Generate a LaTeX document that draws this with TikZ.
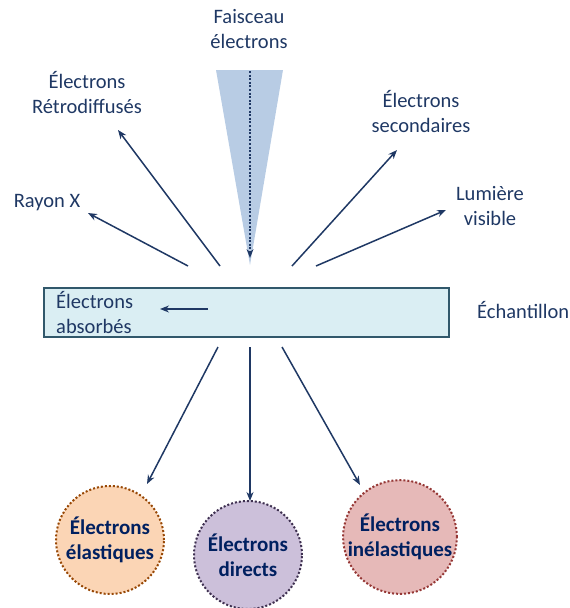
\documentclass[tikz,border=0pt]{standalone}
\usepackage{fontspec}
\setmainfont{Carlito}
\usetikzlibrary{arrows.meta}
\definecolor{navy}{HTML}{1F3864}
\definecolor{dnavy}{HTML}{002060}
\definecolor{beam}{HTML}{B8CCE4}
\definecolor{boxfill}{HTML}{DAEEF3}
\definecolor{boxline}{HTML}{31586B}
\definecolor{c1fill}{HTML}{FBD5B5}
\definecolor{c1line}{HTML}{984806}
\definecolor{c2fill}{HTML}{CCC0DA}
\definecolor{c2line}{HTML}{3F3151}
\definecolor{c3fill}{HTML}{E6B9B8}
\definecolor{c3line}{HTML}{953735}
\tikzset{
  lbl/.style={text=navy, font=\fontsize{20.5}{25}\selectfont, align=center, inner sep=0pt, anchor=base},
  arr/.style={draw=navy, line width=1.5pt, -{Stealth[length=9pt,width=7pt]}},
  circ/.style={circle, minimum size=108pt, inner sep=0pt, line width=2pt, dotted, align=center, text=dnavy, font=\bfseries\fontsize{21}{25}\selectfont}
}
\begin{document}
\begin{tikzpicture}[x=1pt,y=-1pt]
\useasboundingbox (0,0) rectangle (570,608);
% beam
\fill[beam] (216,70) -- (283,70) -- (250,265) -- cycle;
\coordinate (bt) at (250,71);
\coordinate (bb) at (250,258);
\draw[navy, line width=2pt, dash pattern=on 2pt off 1.6pt, -{Stealth[length=9pt,width=7pt,line width=0pt]}] (bt) -- (bb);
\node[lbl] (fais) at (249,48) {Faisceau\\électrons};
% sample
\node[draw=boxline, fill=boxfill, line width=2pt, minimum width=405pt, minimum height=49pt, inner sep=0pt] (ech) at (246.5,312.5) {};
\node[lbl, align=left, anchor=base west] (abs) at (56,333) {Électrons\\absorbés};
\coordinate (a1) at (208,309);
\coordinate (a2) at (160,309);
\draw[arr, line width=1.2pt] (a1) -- (a2);
\node[lbl, anchor=base west] (echl) at (477,318) {Échantillon};
% upper labels
\node[lbl] (rx) at (47,207) {Rayon X};
\node[lbl] (retro) at (87,113) {Électrons\\Rétrodiffusés};
\node[lbl] (sec) at (421,132) {Électrons\\secondaires};
\node[lbl] (lum) at (490,225) {Lumière\\visible};
% upper arrows
\coordinate (s1) at (188,266); \coordinate (e1) at (88,213);
\coordinate (s2) at (220,266); \coordinate (e2) at (118,130);
\coordinate (s3) at (292,266); \coordinate (e3) at (397,150);
\coordinate (s4) at (316,266); \coordinate (e4) at (446,210);
\draw[arr] (s1) -- (e1);
\draw[arr] (s2) -- (e2);
\draw[arr] (s3) -- (e3);
\draw[arr] (s4) -- (e4);
% circles
\node[circ, fill=c1fill, draw=c1line] (ela) at (110,540) {Électrons\\élastiques};
\node[circ, fill=c2fill, draw=c2line] (dir) at (248,555) {Électrons\\directs};
\node[circ, fill=c3fill, draw=c3line, minimum size=112pt] (inel) at (400,537) {Électrons\\inélastiques};
% lower arrows
\coordinate (d1) at (218,347); \coordinate (d2) at (250,347); \coordinate (d3) at (282,347);
\draw[arr] (d1) -- (147,484);
\draw[arr] (d2) -- (250,501);
\draw[arr] (d3) -- (360,485);
\end{tikzpicture}
\end{document}
